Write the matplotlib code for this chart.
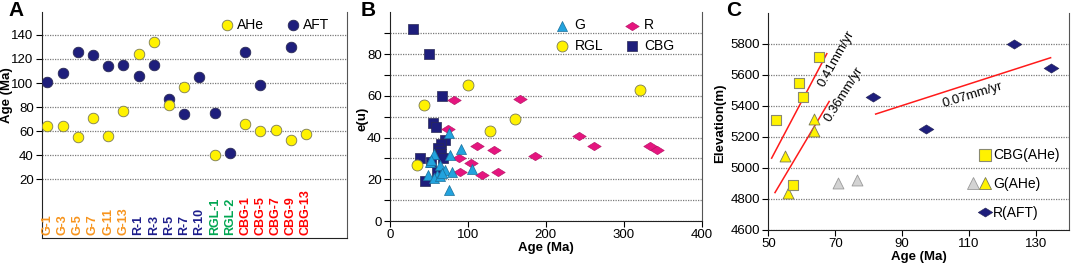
import numpy as np
import matplotlib
matplotlib.use('Agg')
import matplotlib.pyplot as plt
from matplotlib.path import Path
from matplotlib.lines import Line2D
from matplotlib.legend_handler import HandlerTuple

plt.rcParams['font.family'] = ['Liberation Sans', 'DejaVu Sans']

# ===== Panel A: sample ages =====
samples = ['G-1', 'G-3', 'G-5', 'G-7', 'G-11', 'G-13', 'R-1', 'R-3', 'R-5', 'R-7', 'R-10',
           'RGL-1', 'RGL-2', 'CBG-1', 'CBG-5', 'CBG-7', 'CBG-9', 'CBG-13']
ahe_age = [64, 64, 55, 71, 56, 77, 124, 134, 82, 97, np.nan,
           40, np.nan, 66, 60, 61, 53, 58]
aft_age = [101, 108, 126, 123, 114, 115, 106, 115, 87, 74, 105,
           75, 42, 126, 98, np.nan, 130, np.nan]

# ===== Panel B: eU vs age =====
g_age = [76, 91, 77, 57, 51, 64, 105, 71, 79, 49, 60, 56, 64, 76, 67, 53]
g_eu = [42, 34.5, 31.5, 32, 28.5, 27, 25, 24.5, 23.5, 22, 22, 20.5, 21.5, 15, 23, 29]
r_age = [82, 167, 74, 242, 112, 262, 134, 333, 342, 186, 89, 104, 90, 138, 118]
r_eu = [58, 58.5, 44, 40.5, 36, 36, 34, 36, 34, 31, 30, 28, 23.5, 23.5, 22]
rgl_age = [44, 100, 321, 160, 128, 35]
rgl_eu = [55.5, 65, 63, 49, 43, 27]
cbg_age = [29, 50, 67, 55, 59, 70, 66, 62, 64, 66, 68, 38, 52, 60, 45]
cbg_eu = [92, 80, 60, 47, 45, 39, 37, 35, 33.5, 32, 30, 30, 28.5, 23.5, 19]

# ===== Panel C: elevation vs age =====
cbg_ahe_age = [65.3, 59.3, 60.5, 52.4, 57.3]
cbg_ahe_elev = [5717, 5550, 5454, 5311, 4890]
g_ahe_age = [63.8, 63.7, 55.0, 55.8]
g_ahe_elev = [5315, 5236, 5074, 4841]
g_gray_age = [70.8, 76.4]
g_gray_elev = [4905, 4925]
r_aft_age = [123.6, 134.4, 81.4, 97.1]
r_aft_elev = [5800, 5646, 5456, 5253]
# fitted lines: (x0, x1), (y0, y1), label, label x, label y, label angle
fit_lines = [
    ((51.0, 67.5), (5063, 5736), '0.41mm/yr', 70.5, 5705, 61),
    ((52.0, 68.2), (4841, 5428), '0.36mm/yr', 72.6, 5475, 58),
    ((82.1, 134.4), (5347, 5710), '0.07mm/yr', 111.0, 5470, 17),
]

YELLOW = '#FFF200'
YEDGE = '#7A7A55'
NAVY = '#1E1E7C'
MAGENTA = '#E5157F'
BLUE = '#22A3DE'
GRAY = '#D3D3D3'
GRID = dict(linestyle=(0, (1, 1)), color='#7A7A7A', linewidth=0.9)
label_colors = {'G': '#F7941D', 'R': '#1E1E8C', 'RGL': '#00A651', 'CBG': '#FF0000'}

diamond = Path([(-1, 0), (0, 0.62), (1, 0), (0, -0.62), (-1, 0)],
               [Path.MOVETO, Path.LINETO, Path.LINETO, Path.LINETO, Path.CLOSEPOLY])

fig = plt.figure(figsize=(10.72, 2.65), dpi=100)
axA = fig.add_axes([0.0392, 0.1019, 0.2845, 0.8528])
axB = fig.add_axes([0.3638, 0.166, 0.2908, 0.7876])
axC = fig.add_axes([0.7167, 0.1321, 0.2808, 0.8199])


def style(ax):
    ax.spines['top'].set_visible(False)
    ax.spines['right'].set_color('#555555')
    for s in ['left', 'bottom']:
        ax.spines[s].set_color('#222222')
    ax.tick_params(direction='out', length=4, width=0.8, labelsize=9.5, pad=2)
    ax.set_axisbelow(True)


# --- A ---
style(axA)
x = np.arange(len(samples))
axA.scatter(x, aft_age, s=58, c=NAVY, edgecolors='#2a2a55', linewidths=0.6, zorder=3, label='AFT')
axA.scatter(x, ahe_age, s=58, c=YELLOW, edgecolors=YEDGE, linewidths=0.6, zorder=4, label='AHe')
axA.set_xlim(-0.35, 19.7)
axA.set_ylim(-28.7, 159)
axA.set_yticks(range(20, 141, 20))
axA.set_xticks([])
axA.yaxis.grid(True, **GRID)
axA.set_ylabel('Age (Ma)', fontsize=9.5, fontweight='bold')
axA.yaxis.set_label_coords(-0.095, 0.633)
for i, name in enumerate(samples):
    axA.text(i, 0.012, name, transform=axA.get_xaxis_transform(), rotation=90,
             ha='center', va='bottom', fontsize=9, fontweight='bold',
             color=label_colors[name.split('-')[0]])
hA, lA = axA.get_legend_handles_labels()
axA.legend(hA[::-1], lA[::-1], ncol=2, loc='upper right', bbox_to_anchor=(0.96, 1.0),
           frameon=False, fontsize=10, handletextpad=0.2, columnspacing=1.6,
           borderaxespad=0, handlelength=1.0)

# --- B ---
style(axB)
axB.scatter(cbg_age, cbg_eu, s=48, marker='s', c=NAVY, edgecolors='#2a2a55', linewidths=0.5, zorder=3, label='CBG')
axB.scatter(rgl_age, rgl_eu, s=62, marker='o', c=YELLOW, edgecolors=YEDGE, linewidths=0.6, zorder=3, label='RGL')
axB.scatter(r_age, r_eu, s=95, marker=diamond, c=MAGENTA, edgecolors='#b0105f', linewidths=0.4, zorder=4, label='R')
axB.scatter(g_age, g_eu, s=52, marker='^', c=BLUE, edgecolors='#1a6f9a', linewidths=0.5, zorder=5, label='G')
axB.set_xlim(0, 400)
axB.set_ylim(0, 100)
axB.set_xticks(range(0, 401, 100))
axB.set_yticks(range(0, 81, 20))
axB.set_yticks([10, 30, 50, 70, 90], minor=True)
axB.tick_params(axis='y', which='minor', length=4, width=0.8, direction='out')
axB.yaxis.grid(True, which='both', **GRID)
axB.set_xlabel('Age (Ma)', fontsize=9.5, fontweight='bold')
axB.set_ylabel('e(u)', fontsize=9.5, fontweight='bold')
axB.xaxis.set_label_coords(0.5, -0.10)
axB.yaxis.set_label_coords(-0.07, 0.49)
hB, lB = axB.get_legend_handles_labels()
order = [lB.index(k) for k in ['G', 'RGL', 'R', 'CBG']]
axB.legend([hB[i] for i in order], [lB[i] for i in order], ncol=2, loc='upper right',
           bbox_to_anchor=(0.93, 0.997), frameon=False, fontsize=10, handletextpad=0.4,
           columnspacing=1.55, borderaxespad=0, handlelength=1.0, labelspacing=0.46)

# --- C ---
style(axC)
for (xs, ys, txt, tx, ty, rot) in fit_lines:
    axC.plot(xs, ys, color='#FF1A1A', lw=1.1, zorder=2)
    axC.text(tx, ty, txt, rotation=rot, ha='center', va='center', fontsize=9.5,
             rotation_mode='anchor')
axC.scatter(g_gray_age, g_gray_elev, s=62, marker='^', c=GRAY, edgecolors='#9a9a9a', linewidths=0.6, zorder=3)
axC.scatter(g_ahe_age, g_ahe_elev, s=62, marker='^', c=YELLOW, edgecolors=YEDGE, linewidths=0.6, zorder=3)
axC.scatter(cbg_ahe_age, cbg_ahe_elev, s=58, marker='s', c=YELLOW, edgecolors='#8a8a70', linewidths=0.8, zorder=4)
axC.scatter(r_aft_age, r_aft_elev, s=115, marker=diamond, c=NAVY, edgecolors='#2a2a55', linewidths=0.4, zorder=4)
axC.set_xlim(50, 140)
axC.set_ylim(4600, 6000)
axC.set_xticks(range(50, 131, 20))
axC.set_yticks(range(4600, 5801, 200))
axC.yaxis.grid(True, **GRID)
axC.set_xlabel('Age (Ma)', fontsize=9.5, fontweight='bold')
axC.set_ylabel('Elevation(m)', fontsize=9.5, fontweight='bold')
axC.xaxis.set_label_coords(0.5, -0.097)
axC.yaxis.set_label_coords(-0.14, 0.49)

blank = Line2D([], [], ls='none', marker='s', alpha=0)
h_cbg = Line2D([], [], ls='none', marker='s', ms=8, mfc=YELLOW, mec='#8a8a70', mew=0.8)
h_gray = Line2D([], [], ls='none', marker='^', ms=8, mfc=GRAY, mec='#9a9a9a', mew=0.6)
h_gy = Line2D([], [], ls='none', marker='^', ms=8, mfc=YELLOW, mec=YEDGE, mew=0.6)
h_r = Line2D([], [], ls='none', marker=diamond, ms=10.5, mfc=NAVY, mec='#2a2a55', mew=0.4)
axC.legend([(blank, h_cbg), (h_gray, h_gy), (blank, h_r)], ['CBG(AHe)', 'G(AHe)', 'R(AFT)'],
           handler_map={tuple: HandlerTuple(ndivide=None, pad=0)},
           loc='lower right', bbox_to_anchor=(0.986, 0.022), frameon=False, fontsize=10,
           handletextpad=0.15, labelspacing=1.05, borderaxespad=0, handlelength=1.73)

fig.text(8 / 1072, 1 - 10 / 265, 'A', fontsize=15, fontweight='bold', va='center', ha='left')
fig.text(361 / 1072, 1 - 10 / 265, 'B', fontsize=15, fontweight='bold', va='center', ha='left')
fig.text(726 / 1072, 1 - 10 / 265, 'C', fontsize=15, fontweight='bold', va='center', ha='left')

fig.savefig('out.png', dpi=100)
